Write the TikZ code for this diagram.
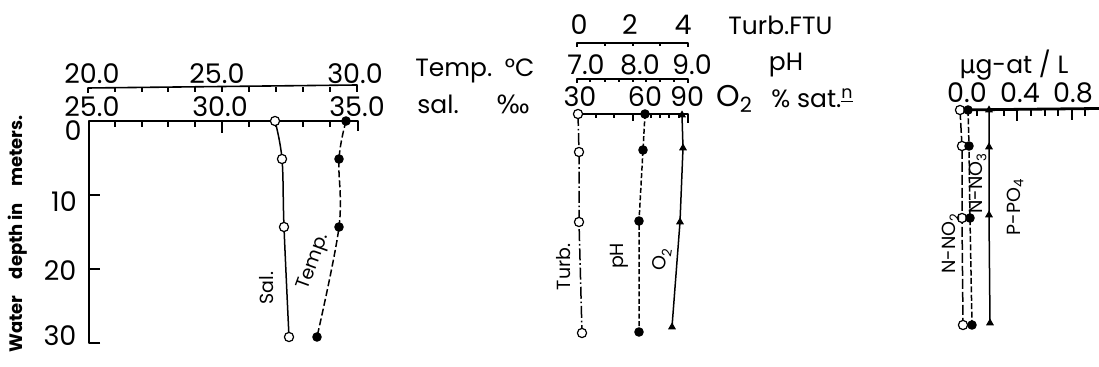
\documentclass[tikz,border=0pt]{standalone}
\usepackage{fontspec}
\setmainfont{Poppins}
\newfontfamily\symfont{DejaVu Sans}
\usetikzlibrary{shapes.geometric}

\tikzset{
  axis/.style={line width=1.4pt},
  scaleline/.style={line width=0.8pt},
  tick/.style={line width=0.7pt},
  num/.style={font=\fontsize{13.5}{15}\selectfont,inner sep=0pt},
  unitlbl/.style={font=\fontsize{12.5}{14}\selectfont,inner sep=0pt},
  curvelbl/.style={font=\fontsize{9.5}{11}\selectfont,inner sep=0pt},
  opendot/.style={circle,draw,line width=0.6pt,fill=white,inner sep=0pt,minimum size=4.6pt},
  fulldot/.style={circle,fill=black,inner sep=0pt,minimum size=4.8pt},
  tridot/.style={regular polygon,regular polygon sides=3,fill=black,inner sep=0pt,minimum size=4.6pt},
  dataline/.style={line width=0.75pt}
}

\begin{document}
\begin{tikzpicture}[x=0.5pt,y=-0.5pt,line join=round]
	\useasboundingbox (0,0) rectangle (1099,367);

	% left panel: temperature and salinity
	\draw[scaleline] (88,93) -- (88,88) -- (357,85) -- (357,92);
	\foreach \x in {115,142,168,195,222,249,276,303,330}
		\draw[tick] (\x,87.5) -- (\x,92);
	\node[num] (t20) at (92,74) {20.0};
	\node[num] (t25) at (217,74) {25.0};
	\node[num] (t30) at (355,74) {30.0};
	\node[num] (s25) at (92,107) {25.0};
	\node[num] (s30) at (220,107) {30.0};
	\node[num] (s35) at (357,107) {35.0};
	\node[unitlbl,anchor=west] (templbl) at (415,71) {Temp.\enspace°C};
	\node[unitlbl,anchor=west] (sallbl) at (417,104) {sal.\quad\enspace{\symfont ‰}};

	\draw[axis] (100,343) -- (89,343) -- (89,121) -- (358,121) -- (358,131);
	\foreach \x in {115,142,168,195,249,276,303,330}
		\draw[tick] (\x,121) -- (\x,127);
	\draw[axis] (222,121) -- (222,133);
	\draw[axis] (89,195) -- (100,195);
	\draw[axis] (89,269) -- (100,269);
	\node[num] (d0) at (73,131) {0};
	\node[num] (d10) at (64,202) {10};
	\node[num] (d20) at (60,271) {20};
	\node[num] (d30) at (60,336) {30};
	\node[font=\fontsize{9}{10}\selectfont\bfseries,rotate=90,inner sep=0pt] (depthlbl) at (18,234)
		{Water\hspace{0.9em}depth in\hspace{0.9em}meters.};

	\path (275,121) coordinate (s0) (282,159) coordinate (s1)
		(284,227) coordinate (s2) (289,337) coordinate (s3);
	\path (346,121) coordinate (t0) (339,159) coordinate (t1)
		(339,227) coordinate (t2) (317,337) coordinate (t3);
	\draw[dataline] plot[smooth,tension=0.6] coordinates {(s0) (s1) (s2) (s3)};
	\draw[dataline,dash pattern=on 3.5pt off 1.5pt] plot[smooth,tension=0.6] coordinates {(t0) (t1) (t2) (t3)};
	\foreach \p in {s0,s1,s2,s3} \node[opendot] at (\p) {};
	\foreach \p in {t0,t1,t2,t3} \node[fulldot] at (\p) {};
	\node[curvelbl,rotate=90] (sallab) at (267,288) {Sal.};
	\node[curvelbl,rotate=70] (templab) at (314,262) {Temp.};

	% middle panel: turbidity, pH and oxygen
	\draw[scaleline] (577,47) -- (577,43) -- (688,43) -- (688,47);
	\foreach \x in {605,633,660}
		\draw[tick] (\x,43) -- (\x,46.5);
	\node[num] (f0) at (579,25) {0};
	\node[num] (f2) at (630,25) {2};
	\node[num] (f4) at (683,25) {4};
	\node[unitlbl,anchor=west] (turblbl) at (728,25) {Turb.FTU};

	\draw[scaleline] (577,83) -- (577,79) -- (688,79) -- (688,83);
	\foreach \x in {590,605,619,633,646,660,674}
		\draw[tick] (\x,79) -- (\x,82);
	\node[num] (p7) at (586,65) {7.0};
	\node[num] (p8) at (640,65) {8.0};
	\node[num] (p9) at (692,65) {9.0};
	\node[unitlbl] (phlbl) at (786,65) {pH};

	\draw[axis] (578,114) -- (688,114) -- (688,123);
	\foreach \x in {596,614,651,660,669,679}
		\draw[tick] (\x,114) -- (\x,118);
	\draw[tick] (633,114) -- (633,121);
	\node[num] (o30) at (580,97) {30};
	\node[num] (o60) at (645,97) {60};
	\node[num] (o90) at (687,97) {90};
	\node[font=\fontsize{15}{16}\selectfont,anchor=west,inner sep=0pt] (oxlbl) at (716,99) {O\textsubscript{2}};
	\node[unitlbl,anchor=west] (satlbl) at (771,98) {\%~sat.\textsuperscript{\underline{n}}};

	\path (578,114) coordinate (f0a) (579,152) coordinate (f1a)
		(579,222) coordinate (f2a) (582,333) coordinate (f3a);
	\path (645,114) coordinate (p0) (643,150) coordinate (p1)
		(639,221) coordinate (p2) (639,332) coordinate (p3);
	\path (682,115) coordinate (o0) (683,148) coordinate (o1)
		(680,222) coordinate (o2) (672,327) coordinate (o3);
	\draw[dataline,dash pattern=on 6pt off 1.4pt on 0.8pt off 1.4pt] (f0a) -- (f1a) -- (f2a) -- (f3a);
	\draw[dataline,dash pattern=on 2.5pt off 1.2pt] (p0) -- (p1) -- (p2) -- (p3);
	\draw[dataline] (o0) -- (o1) -- (o2) -- (o3);
	\foreach \p in {f0a,f1a,f2a,f3a} \node[opendot] at (\p) {};
	\foreach \p in {p0,p1,p2,p3} \node[fulldot] at (\p) {};
	\foreach \p in {o0,o1,o2,o3} \node[tridot] at (\p) {};
	\node[curvelbl,rotate=90] (turblab) at (564,267) {Turb.};
	\node[curvelbl,rotate=90] (phlab) at (619,256) {pH};
	\node[curvelbl,rotate=80] (oxlab) at (662,259) {O\textsubscript{2}};

	% right panel: nutrients
	\node[unitlbl] (uglbl) at (1014,65) {{\symfont µ}g-at / L};
	\node[num] (n00) at (967,93) {0.0};
	\node[num] (n04) at (1020,93) {0.4};
	\node[num] (n08) at (1073,93) {0.8};
	\draw[axis] (958,110) -- (1099,108.5);
	\foreach \x in {977,1004,1031,1045,1058,1085}
		\draw[tick] (\x,110) -- (\x,116);
	\draw[tick] (1017,110) -- (1017,121);
	\draw[tick] (1072,109) -- (1072,120);

	\path (960,110) coordinate (a0) (962,146) coordinate (a1)
		(962,218) coordinate (a2) (963,325) coordinate (a3);
	\path (968,110) coordinate (b0) (969,146) coordinate (b1)
		(970,218) coordinate (b2) (972,325) coordinate (b3);
	\path (989,110) coordinate (c0) (989,147) coordinate (c1)
		(989,215) coordinate (c2) (990,323) coordinate (c3);
	\draw[dataline,dash pattern=on 5pt off 1.5pt] (a0) -- (a1) -- (a2) -- (a3);
	\draw[dataline,dash pattern=on 3pt off 1.2pt] (b0) -- (b1) -- (b2) -- (b3);
	\draw[dataline] (c0) -- (c1) -- (c2) -- (c3);
	\foreach \p in {a0,a1,a2,a3} \node[opendot] at (\p) {};
	\foreach \p in {b0,b1,b2,b3} \node[fulldot] at (\p) {};
	\foreach \p in {c0,c1,c2,c3} \node[tridot] at (\p) {};
	\node[curvelbl,rotate=90] (no2lab) at (951,243) {N-NO\textsubscript{2}};
	\node[curvelbl,rotate=90] (no3lab) at (978,183) {N-NO\textsubscript{3}};
	\node[curvelbl,rotate=90] (po4lab) at (1015,207) {P-PO\textsubscript{4}};
\end{tikzpicture}
\end{document}
